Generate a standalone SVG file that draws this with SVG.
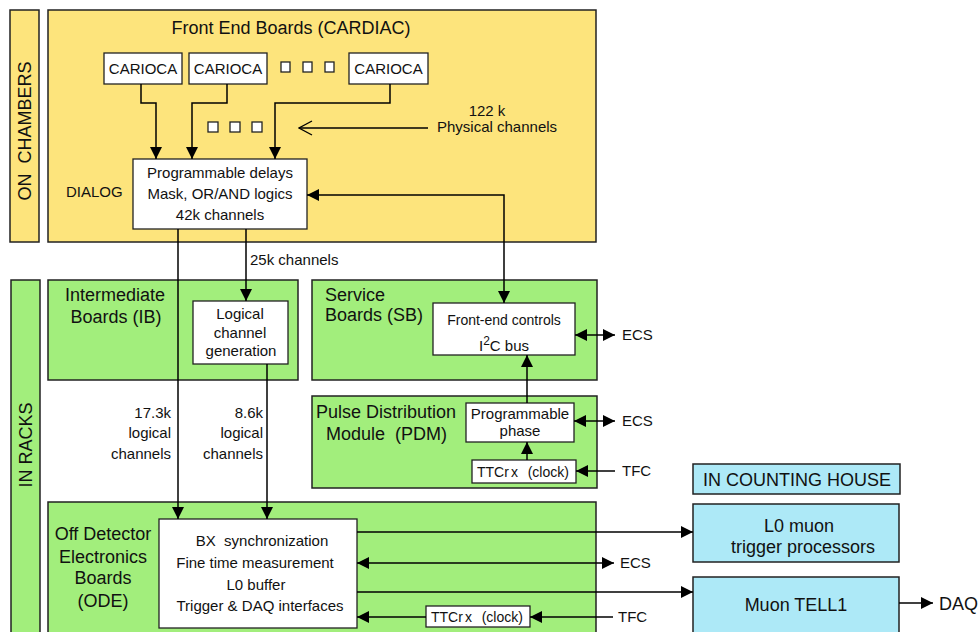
<svg xmlns="http://www.w3.org/2000/svg" width="979" height="632" viewBox="0 0 979 632">
<style>
text{font-family:"Liberation Sans",Arial,sans-serif;fill:#111}
.t15{font-size:15px}
.t14{font-size:14px}
.t18{font-size:18px}
.m{text-anchor:middle}
.e{text-anchor:end}
.yel{fill:#fde47c;stroke:#222;stroke-width:1.5}
.grn{fill:#a2ee7c;stroke:#222;stroke-width:1.5}
.blu{fill:#ade9f7;stroke:#222;stroke-width:1.5}
.wht{fill:#fff;stroke:#222;stroke-width:1.3}
.sq{fill:#fff;stroke:#222;stroke-width:1.3}
.ln{fill:none;stroke:#000;stroke-width:1.5}
</style>
<defs>
<marker id="ah" markerUnits="userSpaceOnUse" markerWidth="14" markerHeight="12" refX="12" refY="6" orient="auto-start-reverse" viewBox="0 0 14 12">
<path d="M0,0 L12,6 L0,12 Z" fill="#000"/>
</marker>
<marker id="oh" markerUnits="userSpaceOnUse" markerWidth="16" markerHeight="16" refX="15" refY="8" orient="auto" viewBox="0 0 16 16">
<path d="M2,1 L15,8 L2,15" fill="none" stroke="#000" stroke-width="1.3"/>
</marker>
</defs>

<g id="on-chambers">
<rect x="10" y="10" width="29" height="232" class="yel"/>
<text class="t18 m" transform="translate(31,131) rotate(-90)" style="white-space:pre">ON  CHAMBERS</text>
</g>

<g id="front-end-boards">
<rect x="48" y="10" width="548" height="232" class="yel"/>
<text class="t18 m" x="291" y="34">Front End Boards (CARDIAC)</text>
<text class="t15" x="66" y="197">DIALOG</text>
</g>

<g id="carioca1"><rect x="104" y="53" width="78" height="31" class="wht"/><text class="t15 m" x="143" y="74">CARIOCA</text></g>
<g id="carioca2"><rect x="189" y="53" width="78" height="31" class="wht"/><text class="t15 m" x="228" y="74">CARIOCA</text></g>
<g id="carioca3"><rect x="349" y="53" width="79" height="31" class="wht"/><text class="t15 m" x="388.5" y="74">CARIOCA</text></g>
<g id="dots1">
<rect x="281" y="62" width="9" height="10" class="sq"/>
<rect x="303" y="62" width="9" height="10" class="sq"/>
<rect x="325" y="62" width="9" height="10" class="sq"/>
</g>
<g id="dots2">
<rect x="208" y="122" width="10" height="10" class="sq"/>
<rect x="230" y="122" width="10" height="10" class="sq"/>
<rect x="252" y="122" width="10" height="10" class="sq"/>
</g>
<g id="physical-label">
<text class="t15 m" x="487" y="116">122 k</text>
<text class="t15" x="437" y="132">Physical channels</text>
</g>

<g id="dialog">
<rect x="133" y="159" width="174" height="70" class="wht"/>
<text class="t15 m" x="220" y="178">Programmable delays</text>
<text class="t15 m" x="220" y="199">Mask, OR/AND logics</text>
<text class="t15 m" x="220" y="220">42k channels</text>
</g>

<g id="in-racks">
<rect x="11" y="280" width="29" height="360" class="grn"/>
<text class="t18 m" transform="translate(32,445) rotate(-90)">IN RACKS</text>
</g>

<g id="intermediate-boards">
<rect x="48" y="280" width="250" height="100" class="grn"/>
<text class="t18 m" x="115" y="301">Intermediate</text>
<text class="t18 m" x="116" y="323">Boards (IB)</text>
</g>
<g id="logical-channel-generation">
<rect x="193" y="301" width="95" height="63" class="wht"/>
<text class="t15 m" x="240" y="319">Logical</text>
<text class="t15 m" x="240" y="338">channel</text>
<text class="t15 m" x="241" y="356">generation</text>
</g>

<g id="service-boards">
<rect x="312" y="280" width="285" height="100" class="grn"/>
<text class="t18" x="325" y="301">Service</text>
<text class="t18" x="325" y="321">Boards (SB)</text>
</g>
<g id="front-end-controls">
<rect x="433" y="303" width="142" height="52" class="wht"/>
<text class="t14 m" x="504" y="325">Front-end controls</text>
<text class="t15 m" x="504" y="351">I<tspan dy="-6" font-size="12">2</tspan><tspan dy="6">C bus</tspan></text>
</g>

<g id="pdm">
<rect x="312" y="396" width="285" height="92" class="grn"/>
<text class="t18" x="316" y="418">Pulse Distribution</text>
<text class="t18" x="326" y="440" style="white-space:pre">Module  (PDM)</text>
</g>
<g id="programmable-phase">
<rect x="466" y="403" width="108" height="39" class="wht"/>
<text class="t15 m" x="520" y="419">Programmable</text>
<text class="t15 m" x="520" y="436">phase</text>
</g>
<g id="ttcrx-pdm">
<rect x="472" y="460" width="104" height="23" class="wht"/>
<text class="t14" x="477" y="477" style="white-space:pre">TTC<tspan letter-spacing="2">rx</tspan>  (clock)</text>
</g>

<g id="ode">
<rect x="48" y="502" width="548" height="140" class="grn"/>
<text class="t18 m" x="103" y="540">Off Detector</text>
<text class="t18 m" x="103" y="563">Electronics</text>
<text class="t18 m" x="103" y="584">Boards</text>
<text class="t18 m" x="103" y="607">(ODE)</text>
</g>
<g id="ode-functions">
<rect x="159" y="519" width="198" height="109" class="wht"/>
<text class="t15 m" x="262" y="546" style="white-space:pre">BX  synchronization</text>
<text class="t15 m" x="255" y="568">Fine time measurement</text>
<text class="t15 m" x="256" y="590">L0 buffer</text>
<text class="t15 m" x="260" y="611">Trigger &amp; DAQ interfaces</text>
</g>
<g id="ttcrx-ode">
<rect x="426" y="606" width="104" height="21" class="wht"/>
<text class="t14" x="431" y="622" style="white-space:pre">TTC<tspan letter-spacing="2">rx</tspan>  (clock)</text>
</g>

<g id="counting-house">
<rect x="693" y="464" width="207" height="30" class="blu"/>
<text class="t18 m" x="797" y="486">IN COUNTING HOUSE</text>
</g>
<g id="l0-muon">
<rect x="693" y="504" width="206" height="58" class="blu"/>
<text class="t18 m" x="799" y="532">L0 muon</text>
<text class="t18 m" x="803" y="553">trigger processors</text>
</g>
<g id="muon-tell1">
<rect x="693" y="577" width="206" height="70" class="blu"/>
<text class="t18 m" x="796" y="611">Muon TELL1</text>
</g>

<g id="labels">
<text class="t15" x="250" y="265">25k channels</text>
<text class="t15 e" x="171" y="418">17.3k</text>
<text class="t15 e" x="171" y="438">logical</text>
<text class="t15 e" x="171" y="459">channels</text>
<text class="t15 e" x="263" y="418">8.6k</text>
<text class="t15 e" x="263" y="438">logical</text>
<text class="t15 e" x="263" y="459">channels</text>
<text class="t15" x="622" y="340">ECS</text>
<text class="t15" x="622" y="426">ECS</text>
<text class="t15" x="622" y="476">TFC</text>
<text class="t15" x="620" y="568">ECS</text>
<text class="t15" x="618" y="622">TFC</text>
<text class="t18" x="939" y="610">DAQ</text>
</g>

<g id="connectors">
<path class="ln" d="M141,84 V103 H156 V159" marker-end="url(#ah)"/>
<path class="ln" d="M227,84 V103 H192 V159" marker-end="url(#ah)"/>
<path class="ln" d="M390,84 V103 H275 V159" marker-end="url(#ah)"/>
<path class="ln" d="M428,128 H299" marker-end="url(#oh)"/>
<path class="ln" d="M307,195 H504 V303" marker-start="url(#ah)" marker-end="url(#ah)"/>
<path class="ln" d="M178,229 V519" marker-end="url(#ah)"/>
<path class="ln" d="M246,229 V301" marker-end="url(#ah)"/>
<path class="ln" d="M267,364 V519" marker-end="url(#ah)"/>
<path class="ln" d="M575,335 H615" marker-start="url(#ah)" marker-end="url(#ah)"/>
<path class="ln" d="M527,403 V355" marker-end="url(#ah)"/>
<path class="ln" d="M574,421 H615" marker-start="url(#ah)" marker-end="url(#ah)"/>
<path class="ln" d="M527,460 V442" marker-end="url(#ah)"/>
<path class="ln" d="M615,471 H576" marker-end="url(#ah)"/>
<path class="ln" d="M357,532 H693" marker-end="url(#ah)"/>
<path class="ln" d="M357,563 H614" marker-start="url(#ah)" marker-end="url(#ah)"/>
<path class="ln" d="M357,592 H693" marker-end="url(#ah)"/>
<path class="ln" d="M613,617 H530" marker-end="url(#ah)"/>
<path class="ln" d="M426,617 H357" marker-end="url(#ah)"/>
<path class="ln" d="M899,603 H933" marker-end="url(#ah)"/>
</g>
</svg>
